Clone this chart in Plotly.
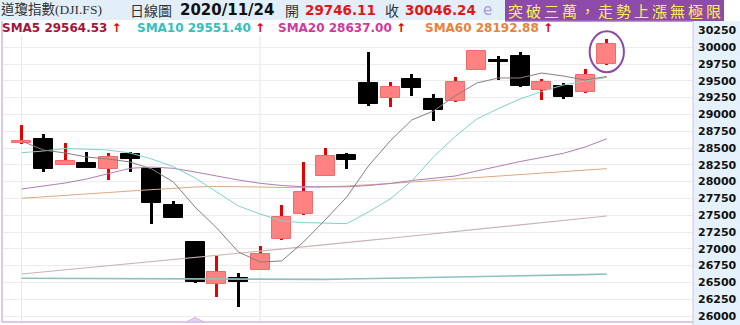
import plotly.graph_objects as go

# ---------------- data ----------------
dates = ["2020-10-16", "2020-10-19", "2020-10-20", "2020-10-21", "2020-10-22", "2020-10-23",
         "2020-10-26", "2020-10-27", "2020-10-28", "2020-10-29", "2020-10-30", "2020-11-02",
         "2020-11-03", "2020-11-04", "2020-11-05", "2020-11-06", "2020-11-09", "2020-11-10",
         "2020-11-11", "2020-11-12", "2020-11-13", "2020-11-16", "2020-11-17", "2020-11-18",
         "2020-11-19", "2020-11-20", "2020-11-23", "2020-11-24"]
opens = [28572, 28630, 28243, 28272, 28192, 28406, 28183, 27647, 27101, 26481, 26570, 26685,
         27142, 27514, 28083, 28396, 29463, 29240, 29522, 29229, 29195, 29661, 29795, 29869,
         29363, 29427, 29329, 29746.11]
highs = [28842, 28708, 28570, 28445, 28421, 28436, 28190, 27711, 27105, 26893, 26636, 27042,
         27647, 28296, 28496, 28430, 29929, 29478, 29597, 29304, 29557, 29958, 29869, 29933,
         29522, 29472, 29671, 30118]
lows = [28565, 28139, 28240, 28200, 28024, 28147, 27365, 27455, 26496, 26287, 26139, 26680,
        27138, 27510, 28080, 28183, 29125, 29115, 29274, 28902, 29190, 29655, 29512, 29412,
        29214, 29225, 29325, 29740]
closes = [28600, 28183, 28307, 28203, 28362, 28332, 27686, 27459, 26511, 26659, 26502, 26923,
          27478, 27845, 28386, 28322, 29155, 29412, 29397, 29066, 29478, 29948, 29783, 29427,
          29487, 29255, 29586, 30046.24]

sma5 = [28604, 28470, 28426, 28366, 28336, 28292, 28188, 27994, 27622, 27310, 26953, 26804,
        26819, 27101, 27429, 27771, 28232, 28604, 28917, 29051, 29274, 29467, 29542, 29542,
        29616, 29571, 29512, 29564.53]
sma10 = [28430, 28455, 28493, 28485, 28470, 28426, 28336, 28222, 28054, 27845, 27637, 27518,
         27414, 27390, 27380, 27375, 27548, 27741, 28009, 28366, 28671, 28932, 29088, 29229,
         29341, 29438, 29497, 29551.40]
sma20 = [27890, 27935, 27979, 28039, 28113, 28198, 28217, 28198, 28143, 28083, 28024, 27975,
         27942, 27924, 27920, 27922, 27942, 27972, 28016, 28054, 28083, 28158, 28232, 28299,
         28359, 28421, 28515, 28637.00]
sma60 = [27752, 27771, 27793, 27816, 27838, 27860, 27883, 27905, 27920, 27927, 27927, 27920,
         27912, 27912, 27920, 27935, 27950, 27972, 27994, 28016, 28039, 28061, 28083, 28098,
         28121, 28143, 28165, 28192.88]
sma120 = [26625, 26655, 26686, 26717, 26748, 26779, 26808, 26838, 26870, 26902, 26934, 26966,
          26996, 27028, 27060, 27092, 27125, 27158, 27190, 27222, 27256, 27290, 27322, 27356,
          27389, 27422, 27455, 27488]
sma240 = [26561, 26560, 26558, 26557, 26555, 26554, 26552, 26551, 26549, 26547, 26545, 26543,
          26541, 26540, 26545, 26551, 26556, 26562, 26567, 26573, 26579, 26585, 26591, 26597,
          26603, 26609, 26616, 26625]

ytick_vals = list(range(26000, 30251, 250))
month_starts = ["2020-10-16", "2020-11-02"]

title_name = "道瓊指數(DJI.FS)"
title_kind = "日線圖"
title_date = "2020/11/24"
open_label, close_label = "開", "收"
headline = "突破三萬，走勢上漲無極限"
ma_labels = [("SMA5", sma5[-1], "#a3163a"), ("SMA10", sma10[-1], "#33c0c0"),
             ("SMA20", sma20[-1], "#cf3a9c"), ("SMA60", sma60[-1], "#e8823c")]

# ---------------- geometry helpers (pixels -> paper) ----------------
W, H = 740, 325
PL, PR, PT, PB = 2, 693, 21, 322


def xp(px):
    return (px - PL) / (PR - PL)


def yp(py):
    return (PB - py) / (PB - PT)


UP_FILL, UP_EDGE, UP_WICK = "#ff8282", "#f26a6a", "#e60000"
DN = "#000000"

up = [c >= o for o, c in zip(opens, closes)]

fig = go.Figure()

# wicks
for is_up, col in [(True, UP_WICK), (False, DN)]:
    idx = [i for i in range(len(dates)) if up[i] == is_up]
    fig.add_trace(go.Bar(
        x=[dates[i] for i in idx],
        base=[lows[i] for i in idx],
        y=[highs[i] - lows[i] for i in idx],
        width=0.14, marker=dict(color=col, line=dict(width=0)),
        hoverinfo="skip", showlegend=False))

# moving averages
ma_styles = [(sma240, "#8fc0c0", 1.6), (sma120, "#c9b4b4", 1.1), (sma60, "#dcaa80", 1.0),
             (sma20, "#b27cb0", 1.0), (sma10, "#80d2c8", 1.0), (sma5, "#8a7d7d", 1.0)]
for vals, col, w in ma_styles:
    fig.add_trace(go.Scatter(x=dates, y=vals, mode="lines", line=dict(color=col, width=w),
                             hoverinfo="skip", showlegend=False))

# bodies
for is_up, fill, edge in [(True, UP_FILL, UP_EDGE), (False, DN, DN)]:
    idx = [i for i in range(len(dates)) if up[i] == is_up]
    fig.add_trace(go.Bar(
        x=[dates[i] for i in idx],
        base=[min(opens[i], closes[i]) for i in idx],
        y=[max(abs(closes[i] - opens[i]), 20) for i in idx],
        width=0.88, marker=dict(color=fill, line=dict(color=edge, width=1)),
        hoverinfo="skip", showlegend=False))

n = len(dates)
px_per_cat = 21.67
x_lo = -(21.7 - PL) / px_per_cat
x_hi = x_lo + (PR - PL) / px_per_cat

y_per_px = 14.88
y_top = 30000 + (47.2 - PT) * y_per_px
y_bot = 30000 - (PB - 47.2) * y_per_px

shapes = []
# header band (light blue)
shapes.append(dict(type="rect", xref="paper", yref="paper", x0=xp(0), x1=xp(505),
                   y0=yp(20), y1=yp(0), fillcolor="#e2eff9", line=dict(width=0), layer="below"))
# right axis panel
shapes.append(dict(type="rect", xref="paper", yref="paper", x0=xp(693), x1=xp(740),
                   y0=yp(325), y1=yp(21), fillcolor="#e6f2fb", line=dict(width=0), layer="below"))
# vertical grid lines
for d in month_starts:
    shapes.append(dict(type="line", xref="x", yref="paper", x0=d, x1=d, y0=0, y1=1,
                       line=dict(color="#e6e6e6", width=1), layer="below"))
# white row for SMA legend
shapes.append(dict(type="rect", xref="paper", yref="paper", x0=xp(3), x1=xp(692.5),
                   y0=yp(36), y1=yp(21), fillcolor="#ffffff", line=dict(width=0), layer="above"))
# headline box
shapes.append(dict(type="rect", xref="paper", yref="paper", x0=xp(505), x1=xp(724),
                   y0=yp(21), y1=yp(0), fillcolor="#8e4aa8", line=dict(width=0), layer="above"))
shapes.append(dict(type="line", xref="paper", yref="paper", x0=xp(505), x1=xp(693),
                   y0=yp(21), y1=yp(21), line=dict(color="#a070c0", width=1.5), layer="above"))
# frame
shapes.append(dict(type="line", xref="paper", yref="paper", x0=xp(693), x1=xp(693),
                   y0=yp(325), y1=yp(21), line=dict(color="#d6bfe4", width=1), layer="above"))
shapes.append(dict(type="line", xref="paper", yref="paper", x0=xp(2), x1=xp(2),
                   y0=yp(322), y1=yp(21), line=dict(color="#d2b6e2", width=1.5), layer="above"))
shapes.append(dict(type="line", xref="paper", yref="paper", x0=xp(2), x1=xp(693),
                   y0=yp(322), y1=yp(322), line=dict(color="#d2b6e2", width=1.5), layer="above"))
# small caret at the bottom
shapes.append(dict(type="path", xref="paper", yref="paper",
                   path=f"M {xp(186)} {yp(322)} L {xp(195)} {yp(317.5)} L {xp(204)} {yp(322)} Z",
                   fillcolor="#e4d2ee", line=dict(color="#d2b6e2", width=1), layer="above"))
# circle around the last candle
last = n - 1
cy = (highs[last] + opens[last]) / 2
shapes.append(dict(type="circle", xref="x", yref="y", x0=last - 0.79, x1=last + 0.79,
                   y0=cy - 305, y1=cy + 305, line=dict(color="#8a4aa6", width=2),
                   fillcolor="rgba(0,0,0,0)", layer="above"))

SERIF = "Liberation Serif, Noto Sans CJK TC, serif"
CJK = "Noto Sans CJK TC, sans-serif"
SANS = "DejaVu Sans, Verdana, sans-serif"

ann = []


def txt(px, py, text, size, color, family, anchor="left"):
    ann.append(dict(xref="paper", yref="paper", x=xp(px), y=yp(py), text=text,
                    showarrow=False, xanchor=anchor, yanchor="middle",
                    font=dict(size=size, color=color, family=family), borderpad=0))


txt(0, 9.5, title_name, 13.5, "#333333", SERIF)
txt(129, 9.5, title_kind, 14, "#333333", CJK)
txt(179, 9.5, f"<b>{title_date}</b>", 15, "#111111", SANS)
txt(284, 9.5, open_label, 14, "#333333", CJK)
txt(304, 9.5, f"<b>{opens[-1]:.2f}</b>", 13.5, "#e01818", SANS)
txt(384, 9.5, close_label, 14, "#333333", CJK)
txt(404, 9.5, f"<b>{closes[-1]:.2f}</b>", 13.5, "#e01818", SANS)
txt(482, 9.5, "e", 15, "#a49ee0", SANS)
txt(614.5, 10.5, "\u2009".join(headline), 15, "#fff05a", CJK, anchor="center")

ma_x = [1, 136, 277, 424]
for (name, val, col), x0 in zip(ma_labels, ma_x):
    txt(x0, 28.3, f"<b>{name} {val:.2f} <span style='color:#e00000'>↑</span></b>", 12, col, SANS)

fig.update_layout(
    width=W, height=H,
    margin=dict(l=PL, r=W - PR, t=PT, b=H - PB, pad=0),
    paper_bgcolor="#ffffff", plot_bgcolor="#ffffff",
    barmode="overlay", bargap=0, showlegend=False,
    shapes=shapes, annotations=ann,
    xaxis=dict(type="category", categoryorder="array", categoryarray=dates,
               range=[x_lo, x_hi], showgrid=False, showticklabels=False,
               zeroline=False, showline=False, ticks="", fixedrange=True),
    yaxis=dict(side="right", range=[y_bot, y_top], tickvals=ytick_vals,
               ticktext=[str(v) for v in ytick_vals],
               tickfont=dict(family="DejaVu Sans, Verdana, sans-serif", size=11,
                             color="#111111", weight="bold"),
               showgrid=True, gridcolor="#ececec", gridwidth=1, zeroline=False,
               showline=False, ticks="", ticklabelstandoff=4, fixedrange=True),
)

fig.write_html("out.html")
